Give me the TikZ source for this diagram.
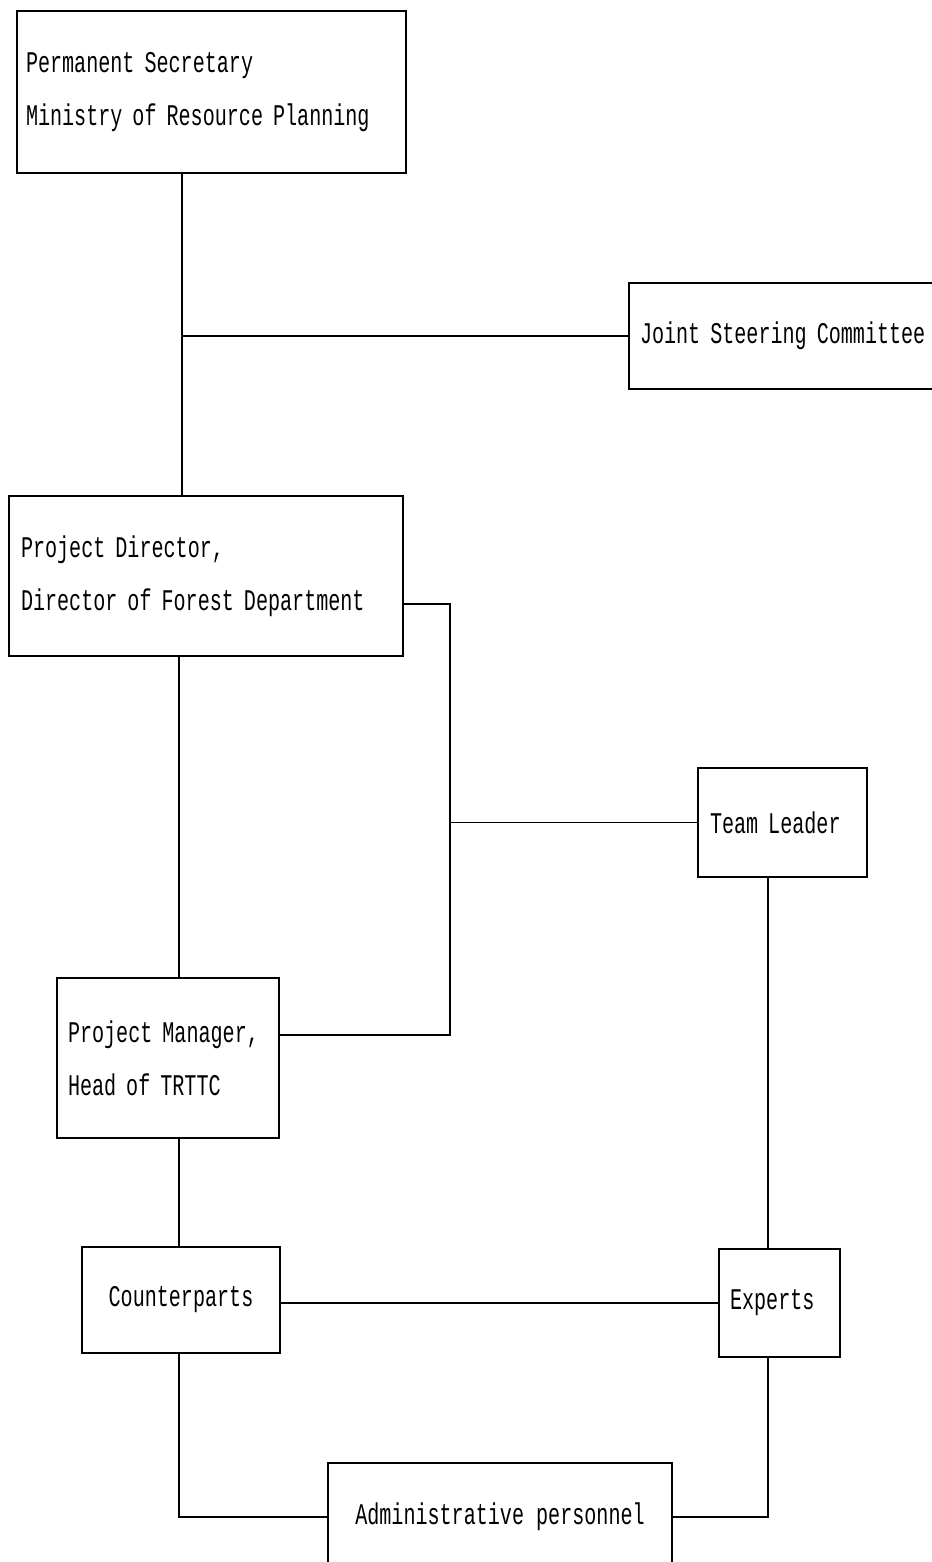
\documentclass[tikz,border=0pt]{standalone}
\usepackage{fontspec}
\newfontfamily\orgfont[FakeStretch=0.67]{Liberation Mono}
\usetikzlibrary{calc}

\begin{document}
\begin{tikzpicture}[x=1pt,y=-1pt,
  box/.style={draw, line width=2pt, anchor=north west, inner ysep=0pt,
    font=\orgfont\fontsize{30}{53}\selectfont},
  link/.style={line width=1.6pt}]
\useasboundingbox (0,0) rectangle (931,1562);
\node[box, minimum width=389pt, minimum height=162pt, inner xsep=9pt, text width=371pt, align=left] (ps) at (16,10) {Permanent Secretary\\Ministry of Resource Planning};
\node[box, minimum width=340pt, minimum height=106pt, inner xsep=11pt, text width=318pt, align=left] (jsc) at (628,282) {Joint Steering Committee};
\node[box, minimum width=394pt, minimum height=160pt, inner xsep=12pt, text width=370pt, align=left] (pd) at (8,495) {Project Director,\\Director of Forest Department};
\node[box, minimum width=169pt, minimum height=109pt, inner xsep=12pt, text width=145pt, align=left] (tl) at (697,767) {Team Leader};
\node[box, minimum width=222pt, minimum height=160pt, inner xsep=11pt, text width=200pt, align=left] (pm) at (56,977) {Project Manager,\\Head of TRTTC};
\node[box, minimum width=198pt, minimum height=106pt] (cp) at (81,1246) {Counterparts};
\node[box, minimum width=121pt, minimum height=108pt, inner xsep=11pt, text width=99pt, align=left] (ex) at (718,1248) {Experts};
\node[box, minimum width=344pt, minimum height=108pt] (ad) at (327,1462) {Administrative personnel};
\coordinate (ax1) at (182,0);
\coordinate (ax2) at (179,0);
\coordinate (ax3) at (450,0);
\coordinate (ax4) at (768,0);
\coordinate (pmj) at ($(pm.east)+(0,-23)$);
\draw[link] (ps.south -| ax1) -- (pd.north -| ax1);
\draw[link] (jsc.west -| ax1) -- (jsc.west);
\draw[link] (pd.south -| ax2) -- (pm.north -| ax2);
\draw[link] ($(pd.east)+(0,28)$) -| (ax3 |- pmj) -- (pmj);
\draw[link] (tl.west -| ax3) -- (tl.west);
\draw[link] (tl.south -| ax4) -- (ex.north -| ax4);
\draw[link] (pm.south -| ax2) -- (cp.north -| ax2);
\draw[link] (cp.east |- ex.west) -- (ex.west);
\draw[link] (cp.south -| ax2) |- (ad.west);
\draw[link] (ex.south -| ax4) |- (ad.east);
\end{tikzpicture}
\end{document}
